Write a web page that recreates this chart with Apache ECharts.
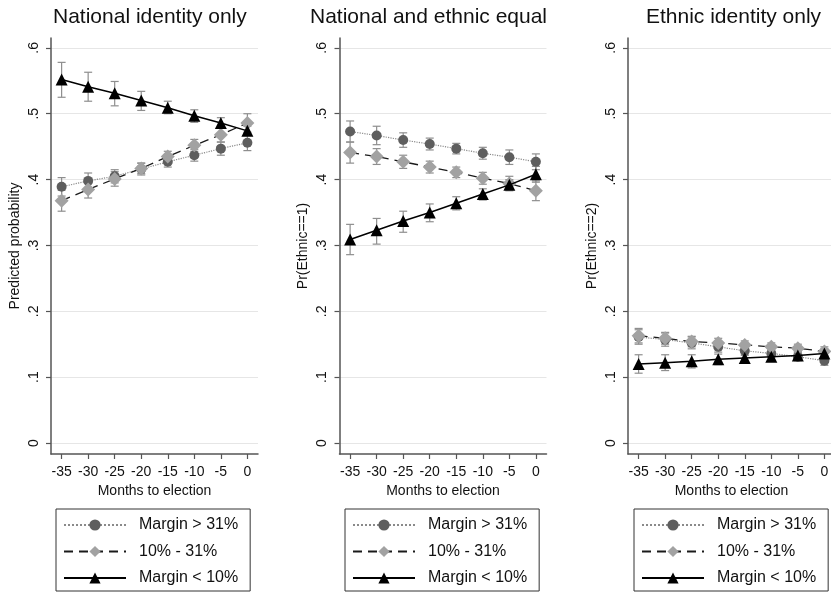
<!DOCTYPE html>
<html>
<head>
<meta charset="utf-8">
<script src="https://cdn.jsdelivr.net/npm/echarts@6/dist/echarts.min.js"></script>
<style>
html,body{margin:0;padding:0;background:#fff;}
#chart{width:831px;height:592px;}
</style>
</head>
<body>
<div id="chart"></div>
<script>
// ---------------- DATA ----------------
const months = [-35, -30, -25, -20, -15, -10, -5, 0];
const yTicks = [0, 0.1, 0.2, 0.3, 0.4, 0.5, 0.6];
const panelTitles = ['National identity only', 'National and ethnic equal', 'Ethnic identity only'];
const yNames = ['Predicted probability', 'Pr(Ethnic==1)', 'Pr(Ethnic==2)'];
const seriesNames = ['Margin > 31%', '10% - 31%', 'Margin < 10%'];

// Panel 1: National identity only
const natHigh   = [0.389, 0.398, 0.405, 0.416, 0.427, 0.437, 0.447, 0.456];
const natHighLo = [0.375, 0.386, 0.395, 0.407, 0.419, 0.428, 0.437, 0.444];
const natHighHi = [0.403, 0.410, 0.415, 0.425, 0.435, 0.446, 0.457, 0.467];
const natMid    = [0.368, 0.385, 0.401, 0.417, 0.435, 0.452, 0.468, 0.486];
const natMidLo  = [0.352, 0.372, 0.390, 0.409, 0.427, 0.443, 0.457, 0.472];
const natMidHi  = [0.384, 0.398, 0.412, 0.425, 0.443, 0.461, 0.479, 0.500];
const natLow    = [0.552, 0.541, 0.531, 0.520, 0.509, 0.497, 0.486, 0.474];
const natLowLo  = [0.525, 0.519, 0.512, 0.505, 0.500, 0.487, 0.478, 0.467];
const natLowHi  = [0.578, 0.563, 0.549, 0.534, 0.519, 0.506, 0.494, 0.481];

// Panel 2: National and ethnic equal
const eqHigh   = [0.473, 0.467, 0.460, 0.454, 0.447, 0.440, 0.434, 0.427];
const eqHighLo = [0.457, 0.453, 0.449, 0.445, 0.439, 0.431, 0.423, 0.415];
const eqHighHi = [0.489, 0.481, 0.471, 0.463, 0.455, 0.449, 0.445, 0.439];
const eqMid    = [0.441, 0.435, 0.427, 0.419, 0.411, 0.402, 0.394, 0.383];
const eqMidLo  = [0.425, 0.423, 0.417, 0.410, 0.403, 0.393, 0.383, 0.368];
const eqMidHi  = [0.457, 0.447, 0.437, 0.428, 0.419, 0.411, 0.405, 0.398];
const eqLow    = [0.309, 0.323, 0.337, 0.350, 0.364, 0.378, 0.392, 0.408];
const eqLowLo  = [0.286, 0.302, 0.320, 0.336, 0.354, 0.369, 0.384, 0.396];
const eqLowHi  = [0.332, 0.341, 0.352, 0.363, 0.374, 0.386, 0.400, 0.420];

// Panel 3: Ethnic identity only
const ethHigh   = [0.161, 0.157, 0.152, 0.146, 0.140, 0.136, 0.131, 0.125];
const ethHighLo = [0.150, 0.147, 0.143, 0.138, 0.133, 0.130, 0.125, 0.118];
const ethHighHi = [0.172, 0.167, 0.161, 0.154, 0.147, 0.142, 0.137, 0.132];
const ethMid    = [0.163, 0.159, 0.154, 0.152, 0.149, 0.146, 0.144, 0.139];
const ethMidLo  = [0.152, 0.150, 0.146, 0.145, 0.143, 0.140, 0.138, 0.132];
const ethMidHi  = [0.174, 0.168, 0.162, 0.159, 0.155, 0.152, 0.150, 0.146];
const ethLow    = [0.120, 0.122, 0.124, 0.127, 0.129, 0.131, 0.133, 0.136];
const ethLowLo  = [0.106, 0.110, 0.114, 0.119, 0.123, 0.126, 0.127, 0.129];
const ethLowHi  = [0.134, 0.134, 0.134, 0.135, 0.135, 0.136, 0.139, 0.143];

// ---------------- BUILD ----------------
const panels = [
  {high:[natHigh,natHighLo,natHighHi], mid:[natMid,natMidLo,natMidHi], low:[natLow,natLowLo,natLowHi]},
  {high:[eqHigh,eqHighLo,eqHighHi], mid:[eqMid,eqMidLo,eqMidHi], low:[eqLow,eqLowLo,eqLowHi]},
  {high:[ethHigh,ethHighLo,ethHighHi], mid:[ethMid,ethMidLo,ethMidHi], low:[ethLow,ethLowLo,ethLowHi]}
];
const gridLefts = [51, 339.5, 628];
const titleLefts = [48, 305, 641];
const legendLefts = [56, 345, 634];
const FONT = 'Liberation Sans, Arial, Helvetica, sans-serif';

function errRender(params, api) {
  const x = api.value(0), lo = api.value(1), hi = api.value(2);
  const a = api.coord([x, lo]), b = api.coord([x, hi]);
  const w = 4;
  const st = {stroke:'#8e8e8e', lineWidth:1.2};
  return {type:'group', children:[
    {type:'line', shape:{x1:a[0], y1:a[1], x2:b[0], y2:b[1]}, style:st},
    {type:'line', shape:{x1:a[0]-w, y1:a[1], x2:a[0]+w, y2:a[1]}, style:st},
    {type:'line', shape:{x1:b[0]-w, y1:b[1], x2:b[0]+w, y2:b[1]}, style:st}
  ]};
}

const styles = {
  high: {symbol:'circle', symbolSize:10, itemStyle:{color:'#5e5e5e'}, lineStyle:{color:'#8a8a8a', type:'dotted', width:1.2}},
  mid:  {symbol:'diamond', symbolSize:14, itemStyle:{color:'#a2a2a2'}, lineStyle:{color:'#1a1a1a', type:[9,6], width:1.3}},
  low:  {symbol:'triangle', symbolSize:12, itemStyle:{color:'#000'}, lineStyle:{color:'#000', type:'solid', width:1.5}}
};
const keys = ['high','mid','low'];

const grids = [], xAxes = [], yAxes = [], series = [], titles = [], legends = [];
panels.forEach((p, i) => {
  grids.push({left: gridLefts[i], top: 38, width: 207, height: 416, containLabel:false, outerBoundsMode:'none'});
  titles.push({text: panelTitles[i], left: titleLefts[i], top: 2,
    textStyle:{fontSize:21, fontWeight:'normal', color:'#111', fontFamily:FONT}});
  xAxes.push({type:'value', gridIndex:i, min:-37, max:2,
    axisLine:{show:true, onZero:false, lineStyle:{color:'#555', width:1.5}},
    axisTick:{show:true, customValues: months, length:5, lineStyle:{color:'#555', width:1.2}},
    axisLabel:{customValues: months, fontSize:14, color:'#111', margin:11, fontFamily:FONT,
      formatter: v => String(Math.round(v))},
    splitLine:{show:false},
    name:'Months to election', nameLocation:'middle', nameGap:30,
    nameTextStyle:{fontSize:14, color:'#111', fontFamily:FONT}});
  yAxes.push({type:'value', gridIndex:i, min:-0.0167, max:0.615,
    axisLine:{show:true, onZero:false, lineStyle:{color:'#555', width:1.5}},
    axisTick:{show:true, customValues: yTicks, length:5, lineStyle:{color:'#555', width:1.2}},
    axisLabel:{customValues: yTicks, fontSize:14, color:'#111', rotate:90, margin:10, fontFamily:FONT,
      formatter: v => { const r = Math.round(v*10); return r === 0 ? '0' : '.' + r; }},
    splitLine:{show:true, lineStyle:{color:'#e6e6e6', width:1}},
    name: yNames[i], nameLocation:'middle', nameGap:29, nameRotate:90,
    nameTextStyle:{fontSize:14, color:'#111', fontFamily:FONT}});
  keys.forEach(k => {
    const [est, lo, hi] = p[k];
    series.push({type:'custom', xAxisIndex:i, yAxisIndex:i, renderItem: errRender, z:1, silent:true,
      encode:{x:0, y:[1,2]},
      data: months.map((m, j) => [m, lo[j], hi[j]])});
  });
  keys.forEach((k, ki) => {
    const est = p[k][0];
    const s = styles[k];
    series.push(Object.assign({type:'line', name: seriesNames[ki], xAxisIndex:i, yAxisIndex:i, z:2+ki,
      silent:true, animation:false, data: months.map((m, j) => [m, est[j]])}, JSON.parse(JSON.stringify(s))));
  });
  legends.push({orient:'vertical', left: legendLefts[i], top: 509, data: seriesNames, selectedMode:false,
    borderColor:'#333', borderWidth:1, padding:[8, 12, 5, 7], itemWidth:62, itemHeight:14, itemGap:10.5,
    textStyle:{fontSize:16, color:'#111', fontFamily:FONT, padding:[0,0,0,8]}});
});

const chart = echarts.init(document.getElementById('chart'), null, {renderer:'canvas'});
chart.setOption({
  animation:false,
  backgroundColor:'#fff',
  textStyle:{fontFamily:FONT},
  title: titles, grid: grids, xAxis: xAxes, yAxis: yAxes, legend: legends, series: series
});
</script>
</body>
</html>
